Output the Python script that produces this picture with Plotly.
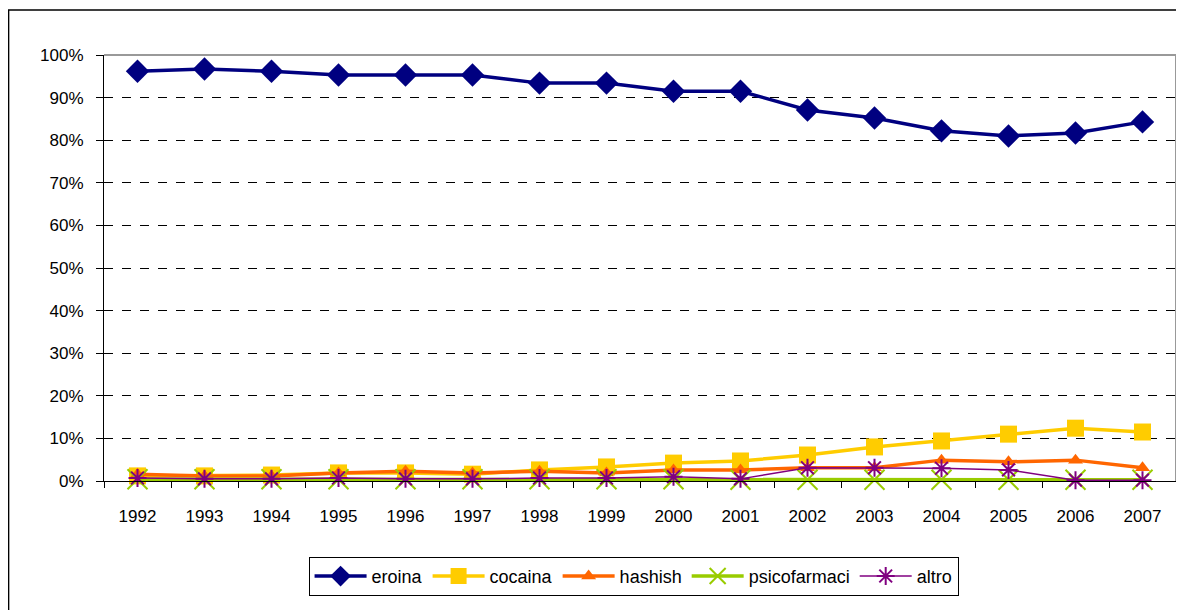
import plotly.graph_objects as go

years = [str(y) for y in range(1992, 2008)]
eroina = [96.2, 96.7, 96.2, 95.3, 95.3, 95.3, 93.4, 93.4, 91.5, 91.5, 87.1, 85.2, 82.2, 81.0, 81.7, 84.3]
cocaina = [1.2, 1.2, 1.4, 1.9, 1.9, 1.6, 2.6, 3.3, 4.2, 4.7, 6.1, 8.0, 9.4, 11.0, 12.4, 11.5]
hashish = [1.6, 1.2, 1.2, 1.9, 2.3, 1.9, 2.3, 1.9, 2.6, 2.6, 3.1, 3.1, 4.9, 4.5, 4.9, 3.1]
psicofarmaci = [0.4, 0.4, 0.4, 0.4, 0.4, 0.4, 0.4, 0.4, 0.4, 0.3, 0.3, 0.3, 0.3, 0.3, 0.3, 0.3]
altro = [0.7, 0.5, 0.5, 0.7, 0.5, 0.5, 0.7, 0.7, 1.0, 0.5, 3.1, 3.1, 3.0, 2.6, 0.2, 0.2]

series = [
    ("eroina", eroina, "#000080", "diamond", 18, 3.5),
    ("cocaina", cocaina, "#FFCC00", "square", 17, 3.5),
    ("hashish", hashish, "#FF6600", "triangle-up", 13, 3.5),
    ("psicofarmaci", psicofarmaci, "#99CC00", "x-thin-open", 20, 3.5),
    ("altro", altro, "#800080", "asterisk-open", 15, 1.5),
]

fig = go.Figure()
for name, vals, color, sym, size, lw in series:
    fig.add_trace(go.Scatter(
        x=years, y=[v / 100 for v in vals], name=name, mode="lines+markers",
        line=dict(color=color, width=lw), cliponaxis=False,
        marker=dict(symbol=sym, size=size, color=color,
                    line=dict(color=color, width=2 if "open" in sym else 0)),
    ))

fam = "Liberation Sans Narrow, Arial Narrow, Liberation Sans, sans-serif"
font = dict(family=fam, size=17, color="black")

fig.update_layout(
    width=1184, height=610,
    margin=dict(l=96, r=16, t=47, b=137),
    paper_bgcolor="white", plot_bgcolor="white",
    font=font,
    showlegend=True,
    legend=dict(orientation="h", x=0.494, xanchor="center", y=-0.178, yanchor="top",
                bordercolor="black", borderwidth=1, itemwidth=52,
                font=dict(family=fam, size=18, color="black"),
                traceorder="normal", tracegroupgap=0),
    xaxis=dict(type="category", showgrid=False, showline=True, linecolor="black", linewidth=1,
               ticks="outside", ticklen=6, tickcolor="black", tickson="boundaries",
               tickfont=dict(family=fam, size=17, color="black"),
               ticklabelstandoff=20, range=[-0.5, 15.5], zeroline=False),
    yaxis=dict(range=[0, 1], dtick=0.1, tickformat=".0%", showgrid=True,
               gridcolor="black", griddash="dash", gridwidth=1,
               showline=True, linecolor="black", linewidth=1,
               ticks="outside", ticklen=7, tickcolor="black", zeroline=False,
               ticklabelstandoff=9,
               tickfont=dict(family=fam, size=17, color="black")),
    shapes=[
        dict(type="line", xref="paper", yref="paper", x0=0, x1=1, y0=1, y1=1,
             line=dict(color="#999999", width=2), layer="above"),
        dict(type="line", xref="paper", yref="paper", x0=1, x1=1, y0=0, y1=1,
             line=dict(color="#999999", width=2), layer="above"),
        dict(type="rect", xref="paper", yref="paper", x0=-0.0890, x1=1.03, y0=-0.35, y1=1.1056,
             line=dict(color="black", width=1.5), fillcolor="rgba(0,0,0,0)", layer="below"),
    ],
)

fig.write_html("out.html")
